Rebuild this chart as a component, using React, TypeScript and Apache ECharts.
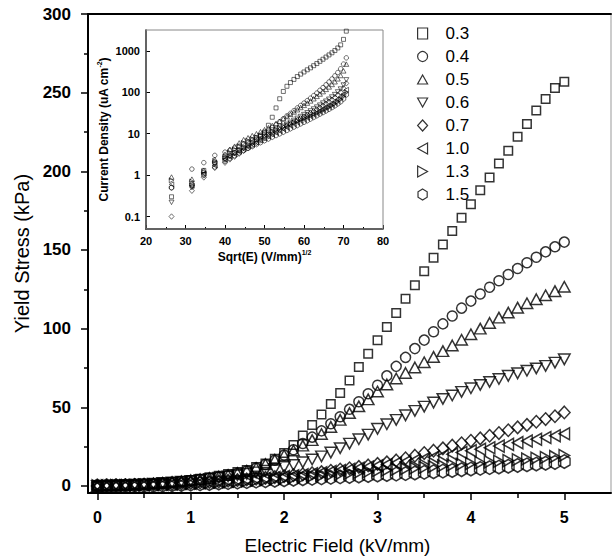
import React, { useEffect, useRef } from "react";
import * as echarts from "echarts";

// ---------- data ----------
const seriesNames = ["0.3", "0.4", "0.5", "0.6", "0.7", "1.0", "1.3", "1.5"];

// main chart: electric field (kV/mm)
const fieldE = [
  0, 0.1, 0.2, 0.3, 0.4, 0.5, 0.6, 0.7, 0.8, 0.9,
  1.0, 1.1, 1.2, 1.3, 1.4, 1.5, 1.6, 1.7, 1.8, 1.9,
  2.0, 2.1, 2.2, 2.3, 2.4, 2.5, 2.6, 2.7, 2.8, 2.9,
  3.0, 3.1, 3.2, 3.3, 3.4, 3.5, 3.6, 3.7, 3.8, 3.9,
  4.0, 4.1, 4.2, 4.3, 4.4, 4.5, 4.6, 4.7, 4.8, 4.9,
  5.0,
];

const stress03 = [0, 0.2, 0.4, 0.6, 0.9, 1.2, 1.6, 2.0, 2.5, 3.1,
  3.8, 4.6, 5.5, 6.5, 7.6, 8.8, 10.2, 12, 14.3, 17.3,
  21, 26, 32, 38.8, 45.4, 52, 59, 67, 75.6, 84,
  92.6, 101, 110, 119, 127.5, 136.5, 145, 153.5, 162, 170.5,
  179, 188, 196, 205, 213, 222, 230, 238.6, 246, 253,
  257];
const stress04 = [0, 0.2, 0.4, 0.6, 0.8, 1.1, 1.4, 1.8, 2.3, 2.8,
  3.4, 4.1, 4.9, 5.8, 6.8, 8, 9.5, 11.3, 13.6, 16.3,
  19.6, 23, 27, 31, 35, 39.5, 44, 48.7, 53.5, 58.6,
  64, 70, 76, 81.7, 87.3, 92.7, 98, 103, 108, 113,
  117.5, 122, 126.3, 130.4, 134.4, 138.2, 141.9, 145.4, 148.8, 152,
  155];
const stress05 = [0, 0.2, 0.4, 0.6, 0.9, 1.2, 1.5, 1.9, 2.4, 2.9,
  3.5, 4.2, 5, 5.9, 6.9, 8.1, 9.6, 11.4, 13.8, 16.6,
  19.5, 22.5, 25.6, 29.1, 33, 37.5, 42, 46.3, 50.6, 55,
  60, 64.5, 68.3, 71.8, 75.3, 78.6, 82, 85.7, 89.3, 92.9,
  96.4, 100, 103.6, 107, 110.2, 113.3, 116.1, 118.7, 121.2, 123.8,
  126.6];
const stress06 = [0, 0.2, 0.4, 0.6, 0.8, 1.1, 1.4, 1.8, 2.2, 2.7,
  3.2, 3.8, 4.5, 5.2, 6, 6.8, 7.7, 8.6, 9.6, 10.7,
  12, 13.3, 15, 16.8, 18.8, 21.2, 24, 26.9, 29.7, 32.6,
  36.3, 39.2, 42, 44.9, 47.7, 50.4, 53, 55.3, 57.5, 59.8,
  62.1, 64.2, 66.1, 68, 70, 71.6, 73.2, 74.7, 76.3, 78.4,
  80.5];
const stress07 = [0, 0.1, 0.2, 0.4, 0.5, 0.7, 0.9, 1.1, 1.3, 1.6,
  1.9, 2.2, 2.5, 2.9, 3.3, 3.7, 4.1, 4.6, 5.1, 5.6,
  6.2, 6.8, 7.4, 8.1, 8.8, 9.6, 10.4, 11.2, 12.1, 13,
  14, 15, 16.2, 17.6, 19.2, 20.9, 22.4, 23.9, 25.6, 27.1,
  28.7, 30.2, 31.9, 33.6, 35.4, 37.2, 38.8, 40.8, 42.5, 44.3,
  46.7];
const stress10 = [0, 0.1, 0.2, 0.3, 0.5, 0.6, 0.8, 1, 1.2, 1.5,
  1.7, 2, 2.3, 2.7, 3, 3.4, 3.8, 4.3, 4.8, 5.3,
  5.9, 6.5, 7.1, 7.7, 8.4, 9.1, 9.8, 10.5, 11.2, 12,
  12.8, 13.6, 14.5, 15.4, 16.3, 17.2, 18.2, 19.2, 20.2, 21.2,
  22.3, 23.3, 24.3, 25.3, 26.4, 27.5, 28.6, 29.7, 30.8, 31.9,
  33.2];
const stress13 = [0, 0.1, 0.2, 0.3, 0.4, 0.6, 0.7, 0.9, 1.1, 1.3,
  1.5, 1.7, 2, 2.3, 2.6, 2.9, 3.2, 3.6, 4, 4.4,
  4.8, 5.2, 5.6, 6.1, 6.6, 7.1, 7.6, 8.1, 8.6, 9.1,
  9.6, 10.1, 10.5, 10.9, 11.4, 11.8, 12.3, 12.8, 13.3, 13.8,
  14.3, 14.8, 15.3, 15.7, 16.1, 16.6, 17.1, 17.6, 18.1, 18.6,
  19.3];
const stress15 = [0, 0.1, 0.1, 0.2, 0.3, 0.3, 0.4, 0.5, 0.7, 0.9,
  1.1, 1.3, 1.5, 1.8, 2.1, 2.4, 2.7, 3, 3.3, 3.6,
  3.9, 4.2, 4.5, 4.8, 5.1, 5.4, 5.7, 6, 6.3, 6.6,
  6.9, 7.2, 7.5, 7.8, 8.2, 8.6, 9, 9.4, 9.8, 10.3,
  10.7, 11.1, 11.6, 12, 12.5, 13, 13.4, 13.9, 14.4, 14.9,
  15.5];

// inset: sqrt(E) in (V/mm)^1/2
const sqrtE = [26.46, 31.62, 34.64, 37.42, 40, 41.23, 42.43, 43.59, 44.72,
  45.83, 46.9, 47.96, 48.99, 50, 50.99, 51.96, 52.92, 53.85, 54.77,
  55.68, 56.57, 57.45, 58.31, 59.16, 60, 60.83, 61.64, 62.45, 63.25,
  64.03, 64.81, 65.57, 66.33, 67.08, 67.82, 68.56, 69.28, 70, 70.71];

const current03 = [0.3, 0.55, 1.3, 2.0, 2.6, 3.0, 3.5, 4.0, 4.6,
  5.3, 6.2, 7.2, 8.6, 11, 16, 25, 42, 70, 105,
  140, 172, 205, 240, 275, 310, 350, 390, 440, 495,
  560, 630, 710, 800, 900, 1020, 1180, 1400, 1900, 3000];
const current04 = [0.5, 1.4, 2.0, 3.0, 3.6, 4.0, 4.5, 5.0, 5.6,
  6.2, 7.0, 8.0, 9.2, 10.5, 12, 14, 16.5, 19.5, 23,
  27, 31, 36, 42, 48, 55, 63, 72, 83, 96,
  112, 130, 152, 178, 210, 250, 300, 370, 480, 680];
const current05 = [0.9, 0.8, 1.3, 2.4, 3.2, 4.2, 5.0, 6.0, 7.2,
  8.0, 9.0, 10, 11.2, 12.5, 14, 15.8, 17.8, 20, 23,
  26, 29.5, 33.5, 38, 43, 48.5, 55, 62, 70, 80,
  91, 104, 118, 135, 155, 180, 212, 255, 330, 480];
const current06 = [0.22, 0.5, 1.0, 1.8, 2.3, 2.8, 3.3, 3.8, 4.4,
  5.0, 5.7, 6.5, 7.4, 8.4, 9.5, 10.7, 12, 13.5, 15,
  16.8, 18.8, 21, 23.5, 26, 29, 32, 35.5, 39.5, 44,
  49, 55, 61, 68, 77, 88, 102, 120, 150, 200];
const current07 = [0.1, 0.42, 0.88, 1.5, 2.0, 2.4, 2.8, 3.3, 3.9,
  4.5, 5.2, 6.0, 6.9, 7.8, 8.8, 9.9, 11.1, 12.4, 13.8,
  15.4, 17.2, 19.2, 21.3, 23.6, 26, 28.8, 31.8, 35, 38.7,
  43, 48, 53, 59, 66, 75, 86, 100, 125, 165];
const current10 = [0.6, 0.55, 1.1, 1.7, 2.4, 2.8, 3.2, 3.7, 4.2,
  4.8, 5.4, 6.1, 6.9, 7.7, 8.6, 9.6, 10.6, 11.7, 12.9,
  14.2, 15.6, 17.1, 18.8, 20.6, 22.5, 24.5, 26.8, 29.3, 32,
  35, 38.5, 42.5, 47, 52, 58, 66, 76, 90, 115];
const current13 = [0.75, 0.7, 1.2, 2.2, 2.8, 3.5, 4.2, 5.0, 6.0,
  6.8, 7.5, 8.2, 9.0, 9.8, 10.7, 11.6, 12.6, 13.7, 14.8,
  16, 17.3, 18.7, 20.2, 21.8, 23.5, 25.3, 27.3, 29.5, 32,
  34.7, 37.7, 41, 44.5, 48.5, 53.5, 60, 68, 80, 100];
const current15 = [0.5, 0.6, 1.0, 1.6, 2.2, 2.6, 3.0, 3.5, 4.0,
  4.5, 5.0, 5.6, 6.2, 6.9, 7.6, 8.4, 9.2, 10.1, 11.1,
  12.2, 13.4, 14.7, 16.1, 17.6, 19.2, 21, 23, 25.2, 27.6,
  30.2, 33, 36, 39.5, 43.5, 48, 53.5, 60, 70, 88];

const stressSeries = [stress03, stress04, stress05, stress06, stress07, stress10, stress13, stress15];
const currentSeries = [current03, current04, current05, current06, current07, current10, current13, current15];

// tick labels
const mainXTicks = [0, 1, 2, 3, 4, 5];
const mainXMinor = [0.5, 1.5, 2.5, 3.5, 4.5];
const mainYTicks = [0, 50, 100, 150, 200, 250, 300];
const mainYMinor = [25, 75, 125, 175, 225, 275];

// ---------- styles ----------
const FONT = "'Liberation Sans', Arial, Helvetica, sans-serif";
const HEX = "path://M5 0 L10 3 L10 9 L5 12 L0 9 L0 3 Z";
const TRI_UP = "path://M5 0 L10 9 L0 9 Z";
const TRI_DOWN = "path://M0 0 L10 0 L5 9 Z";
const TRI_LEFT = "path://M9 0 L9 10 L0 5 Z";
const TRI_RIGHT = "path://M0 0 L0 10 L9 5 Z";
const markerStyles = [
  { symbol: "rect", size: [8.5, 8.5], small: [4, 4] },
  { symbol: "circle", size: [10, 10], small: [4.5, 4.5] },
  { symbol: TRI_UP, size: [11.5, 10.5], small: [5, 4.5] },
  { symbol: TRI_DOWN, size: [11.5, 10.5], small: [5, 4.5] },
  { symbol: "diamond", size: [11.5, 12.5], small: [5, 5.5] },
  { symbol: TRI_LEFT, size: [10.5, 12], small: [4.5, 5] },
  { symbol: TRI_RIGHT, size: [10.5, 12], small: [4.5, 5] },
  { symbol: HEX, size: [11.5, 13.5], small: [4.5, 5.5] },
];

export default function App() {
  const ref = useRef<HTMLDivElement>(null);

  useEffect(() => {
    document.body.style.margin = "0";
    if (!ref.current) return;
    const chart = echarts.init(ref.current, null, { renderer: "svg" });

    const mainSeries = seriesNames.map((name, k) => ({
      name,
      type: "scatter",
      xAxisIndex: 0,
      yAxisIndex: 0,
      symbol: markerStyles[k].symbol,
      symbolSize: markerStyles[k].size,
      itemStyle: { color: "rgba(0,0,0,0)", borderColor: "#000", borderWidth: 1.5 },
      emphasis: { disabled: true },
      data: fieldE.map((e, i) => [e, stressSeries[k][i]]),
      z: 3,
    }));

    const insetSeries = seriesNames.map((name, k) => ({
      name,
      type: "scatter",
      xAxisIndex: 3,
      yAxisIndex: 2,
      symbol: markerStyles[k].symbol,
      symbolSize: markerStyles[k].small,
      itemStyle: { color: "rgba(0,0,0,0)", borderColor: "#000", borderWidth: 0.7 },
      emphasis: { disabled: true },
      data: sqrtE.map((s, i) => [s, currentSeries[k][i]]),
      z: 5,
    }));

    const boldLabel = { fontFamily: FONT, fontWeight: "bold", color: "#000" };

    chart.setOption({
      animation: false,
      backgroundColor: "#fff",
      textStyle: { fontFamily: FONT },
      grid: [
        { left: 88, right: 2, top: 14, bottom: 66, show: true, borderColor: "#999", borderWidth: 1 },
        { left: 146, top: 30, width: 237, height: 199, show: true, borderColor: "#888", borderWidth: 1, z: 4 },
      ],
      legend: {
        data: seriesNames,
        orient: "vertical",
        left: 417,
        top: 25,
        padding: 0,
        itemWidth: 10,
        itemHeight: 11,
        itemGap: 6,
        selectedMode: false,
        itemStyle: { borderWidth: 1.2 },
        textStyle: { fontFamily: FONT, fontSize: 17, lineHeight: 17, color: "#000", padding: [0, 0, 0, 13] },
      },
      xAxis: [
        {
          gridIndex: 0, type: "value", min: -0.1, max: 5.5, position: "bottom",
          axisLine: { onZero: false, lineStyle: { color: "#000", width: 2 } },
          axisTick: { customValues: mainXTicks, length: 7, lineStyle: { color: "#000", width: 1.5 } },
          axisLabel: { customValues: mainXTicks, fontSize: 16, margin: 16, ...boldLabel },
          splitLine: { show: false },
          name: "Electric Field (kV/mm)", nameLocation: "middle", nameGap: 43,
          nameTextStyle: { fontFamily: FONT, fontSize: 19, color: "#000", padding: [0, 24, 0, 0] },
        },
        {
          gridIndex: 0, type: "value", min: -0.1, max: 5.5, position: "bottom",
          axisLine: { show: false, onZero: false },
          axisTick: { customValues: mainXMinor, length: 5, lineStyle: { color: "#000", width: 1.5 } },
          axisLabel: { show: false },
          splitLine: { show: false },
        },
        {
          gridIndex: 0, type: "value", min: -0.1, max: 5.5, position: "top",
          axisLine: { onZero: false, lineStyle: { color: "#000", width: 2 } },
          axisTick: { show: false },
          axisLabel: { show: false },
          splitLine: { show: false },
        },
        {
          gridIndex: 1, type: "value", min: 20, max: 80, interval: 10, position: "bottom",
          axisLine: { onZero: false, lineStyle: { color: "#000", width: 1.5 } },
          axisTick: { inside: true, length: 4, lineStyle: { color: "#000", width: 1 } },
          minorTick: { show: true, splitNumber: 2, length: 2, lineStyle: { color: "#000", width: 1 } },
          axisLabel: { fontSize: 11, margin: 6, ...boldLabel },
          splitLine: { show: false },
          name: "Sqrt(E) (V/mm){sup|1/2}", nameLocation: "middle", nameGap: 20,
          nameTextStyle: {
            fontFamily: FONT, fontSize: 12, fontWeight: "bold", color: "#000", lineHeight: 16,
            rich: { sup: { fontFamily: FONT, fontSize: 7, fontWeight: "bold", color: "#000", verticalAlign: "top", lineHeight: 16 } },
          },
        },
      ],
      yAxis: [
        {
          gridIndex: 0, type: "value", min: -4.5, max: 300, position: "left",
          axisLine: { onZero: false, lineStyle: { color: "#000", width: 2 } },
          axisTick: { customValues: mainYTicks, length: 7, lineStyle: { color: "#000", width: 1.5 } },
          axisLabel: { customValues: mainYTicks, fontSize: 17, margin: 17, ...boldLabel },
          splitLine: { show: false },
          name: "Yield Stress (kPa)", nameLocation: "middle", nameGap: 56,
          nameTextStyle: { fontFamily: FONT, fontSize: 20, color: "#000" },
        },
        {
          gridIndex: 0, type: "value", min: -4.5, max: 300, position: "left",
          axisLine: { show: false, onZero: false },
          axisTick: { customValues: mainYMinor, length: 4, lineStyle: { color: "#000", width: 1.5 } },
          axisLabel: { show: false },
          splitLine: { show: false },
        },
        {
          gridIndex: 1, type: "log", logBase: 10, min: 0.05, max: 3200, position: "left",
          axisLine: { onZero: false, lineStyle: { color: "#000", width: 1.5 } },
          axisTick: { inside: true, length: 4, lineStyle: { color: "#000", width: 1 } },
          axisLabel: {
            fontSize: 11, margin: 6, showMinLabel: false, showMaxLabel: false, ...boldLabel,
            formatter: (v: number) => String(v),
          },
          splitLine: { show: false },
          name: "Current Density (uA cm{sup|-2})", nameLocation: "middle", nameGap: 28,
          nameTextStyle: {
            fontFamily: FONT, fontSize: 12, fontWeight: "bold", color: "#000", lineHeight: 16,
            rich: { sup: { fontFamily: FONT, fontSize: 7, fontWeight: "bold", color: "#000", verticalAlign: "top", lineHeight: 16 } },
          },
        },
      ],
      series: [...mainSeries, ...insetSeries],
    });

    return () => chart.dispose();
  }, []);

  return (
    <div
      ref={ref}
      style={{ position: "absolute", left: 0, top: 0, width: 613, height: 560, background: "#fff" }}
    />
  );
}
